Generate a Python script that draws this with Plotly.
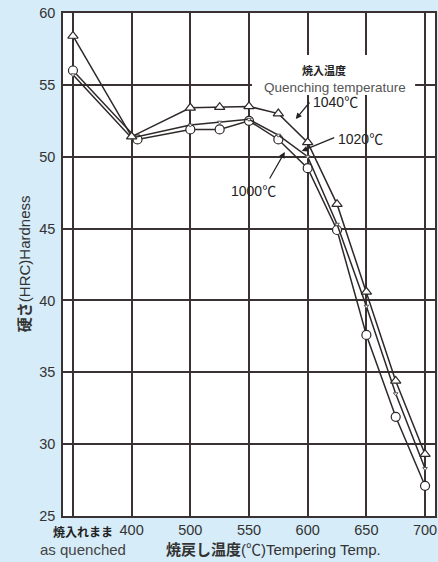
import plotly.graph_objects as go

# ---- data ----
AQ = "as quenched"
temps_1040 = [AQ, 400, 500, 525, 550, 575, 600, 625, 650, 675, 700]
hrc_1040 = [58.4, 51.4, 53.4, 53.45, 53.5, 53.0, 51.0, 46.7, 40.6, 34.4, 29.3]

temps_1020 = [AQ, 400, 500, 525, 550, 575, 600, 625, 650, 675, 700]
hrc_1020 = [55.7, 51.3, 52.2, 52.4, 52.6, 51.5, 50.0, 45.3, 39.6, 33.5, 28.3]

temps_1000 = [AQ, 410, 500, 525, 550, 575, 600, 625, 650, 675, 700]
hrc_1000 = [56.0, 51.2, 51.9, 51.9, 52.5, 51.2, 49.2, 44.9, 37.6, 31.9, 27.1]

tick_temps = [AQ, 400, 500, 550, 600, 650, 700]
tick_text = ["", "400", "500", "550", "600", "650", "700"]
y_ticks = [25, 30, 35, 40, 45, 50, 55, 60]


def xpos(t):
    # the chart's x axis is piecewise: as quenched|400|500 spaced like 500..700 by 50
    if t == AQ:
        return 0.0
    if t <= 500:
        return (t - 300) / 100.0
    return 2.0 + (t - 500) / 50.0


# ---- layout geometry ----
W, H = 438, 562
L, R, T, B = 63, 1, 13, 46
PW, PH = W - L - R, H - T - B


def px(xp):
    return (xp - L) / PW


def py(yp):
    return (T + PH - yp) / PH


LINE = "#2e2828"
GRID = "#3a3232"
BG = "#d6ecf8"
FONT = "Liberation Sans, Noto Sans CJK JP, sans-serif"

fig = go.Figure()

fig.add_trace(go.Scatter(
    x=[xpos(t) for t in temps_1000], y=hrc_1000, mode="lines+markers",
    line=dict(color=LINE, width=1.5),
    marker=dict(symbol="circle", size=9, color="white", line=dict(color=LINE, width=1.2)),
    name="1000", showlegend=False))
fig.add_trace(go.Scatter(
    x=[xpos(t) for t in temps_1020], y=hrc_1020, mode="lines+markers",
    line=dict(color=LINE, width=1.5),
    marker=dict(symbol="triangle-down", size=4, color="white", line=dict(color="#555", width=1)),
    name="1020", showlegend=False))
fig.add_trace(go.Scatter(
    x=[xpos(t) for t in temps_1040], y=hrc_1040, mode="lines+markers",
    line=dict(color=LINE, width=1.5),
    marker=dict(symbol="triangle-up", size=9, color="white", line=dict(color=LINE, width=1.2)),
    name="1040", showlegend=False))

x_lo = (L - 73) / 59.0
x_hi = x_lo + PW / 59.0

fig.update_layout(
    width=W, height=H,
    margin=dict(l=L, r=R, t=T, b=B, pad=0),
    paper_bgcolor=BG, plot_bgcolor="white",
    font=dict(family=FONT, size=14, color="#333"),
    xaxis=dict(range=[x_lo, x_hi], tickvals=[xpos(t) for t in tick_temps], ticktext=tick_text,
               showgrid=True, gridcolor=GRID, gridwidth=1.5, zeroline=False,
               showline=True, linecolor=GRID, linewidth=1.5, mirror=True,
               ticks="", tickfont=dict(size=14.5, color="#333", family=FONT), fixedrange=True),
    yaxis=dict(range=[25, 60], tickvals=y_ticks,
               showgrid=True, gridcolor=GRID, gridwidth=1.5, zeroline=False,
               showline=True, linecolor=GRID, linewidth=1.5, mirror=True,
               ticks="", ticklabelstandoff=3,
               tickfont=dict(size=14.5, color="#333", family=FONT), fixedrange=True),
)

# white box behind the legend text (hides gridlines)
fig.add_shape(type="rect", xref="paper", yref="paper",
              x0=px(253), x1=px(417), y0=py(95), y1=py(55),
              fillcolor="white", line=dict(width=0), layer="above")

ann = []
ann.append(dict(text="<b>焼入温度</b>", x=px(325), y=py(70), font=dict(size=11, color="#222")))
ann.append(dict(text="Quenching temperature", x=px(336), y=py(87), font=dict(size=13.5, color="#555")))
ann.append(dict(text="1040℃", x=px(337), y=py(102), font=dict(size=14, color="#222")))
ann.append(dict(text="1020℃", x=px(362), y=py(139), font=dict(size=14, color="#222")))
ann.append(dict(text="1000℃", x=px(255), y=py(191), font=dict(size=14, color="#222")))
ann.append(dict(text="<b>焼入れまま</b>", x=px(83), y=py(532), font=dict(size=12, color="#222")))
ann.append(dict(text="as quenched", x=px(83), y=py(549), font=dict(size=15, color="#444")))
ann.append(dict(text="<b>焼戻し温度</b>(℃)Tempering Temp.", x=px(275), y=py(549), font=dict(size=15, color="#333")))
ann.append(dict(text="<b>硬さ</b>(HRC)Hardness", x=px(24), y=py(264), textangle=-90,
                font=dict(size=15, color="#333")))
for a in ann:
    a["font"]["family"] = FONT
    a.update(xref="paper", yref="paper", showarrow=False, xanchor="center", yanchor="middle")
    fig.add_annotation(**a)

# leader arrows (tip, tail offset in px)
leaders = [((297, 119), (312, 101)), ((303, 151), (337, 137)), ((286, 152), (270, 180))]
for (tx, ty), (sx, sy) in leaders:
    fig.add_annotation(xref="paper", yref="paper", x=px(tx), y=py(ty), text="",
                       showarrow=True, ax=sx - tx, ay=sy - ty, arrowhead=2, arrowsize=1,
                       arrowwidth=1.2, arrowcolor="#222", standoff=0, startstandoff=0)

fig.write_html("out.html")
